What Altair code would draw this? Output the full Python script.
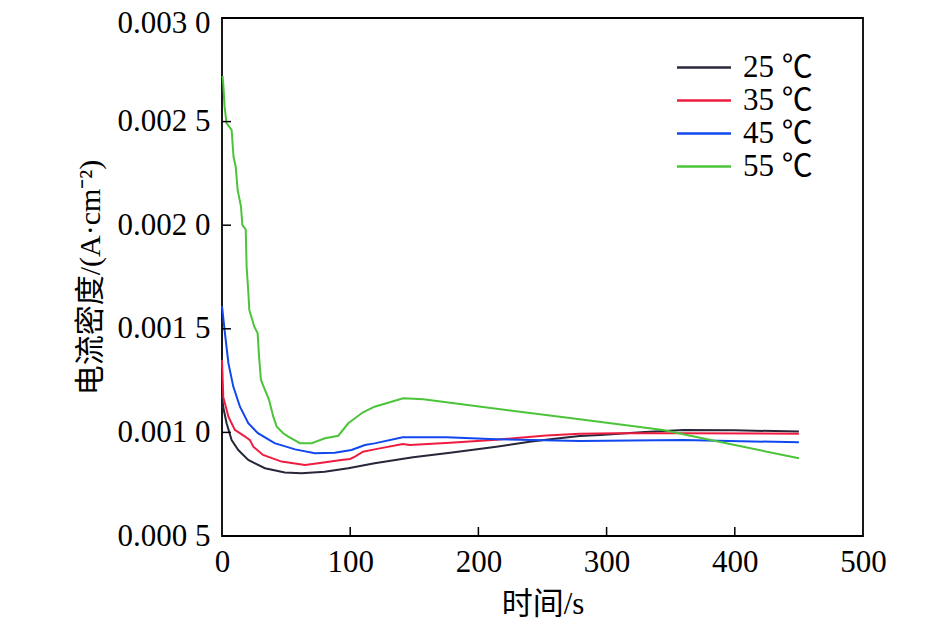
import altair as alt
import pandas as pd

# ---- data ----
series_names = ["25 ℃", "35 ℃", "45 ℃", "55 ℃"]
series_colors = ["#27273a", "#ee1c40", "#1047ee", "#4cc43a"]

x25 = [0, 1, 3.6, 7.5, 12.7, 20.5, 33.5, 49, 62, 80, 98.5, 119, 149, 178, 214, 240, 256, 279, 295, 330, 360, 400, 450]
y25 = [0.00118, 0.00112, 0.001044, 0.000963, 0.000915, 0.000867, 0.000827, 0.000806, 0.000803, 0.00081,
       0.000827, 0.000851, 0.00088, 0.000902, 0.000931, 0.000955, 0.000967, 0.000983, 0.000988, 0.001002,
       0.001012, 0.00101, 0.001004]

x35 = [0, 1, 5, 10, 18, 21.8, 24.4, 32, 46.5, 64.7, 75, 93, 100, 103.7, 110, 119, 141, 146.6, 178, 214, 253,
       279, 308, 360, 450]
y35 = [0.00135, 0.00117, 0.001076, 0.001012, 0.00098, 0.000963, 0.000931, 0.000891, 0.000859, 0.000843,
       0.000851, 0.000867, 0.000872, 0.000883, 0.000907, 0.000918, 0.000944, 0.000939, 0.00095, 0.000965,
       0.000985, 0.000994, 0.000996, 0.000996, 0.000994]

x45 = [0, 2.3, 5, 8.8, 14, 20.5, 28, 41, 57, 72.5, 88, 101, 111.5, 119, 141, 175, 214, 279, 360, 450]
y45 = [0.00161, 0.001478, 0.001334, 0.001221, 0.001124, 0.001044, 0.000996, 0.000948, 0.000918, 0.000899,
       0.000902, 0.000915, 0.000939, 0.000947, 0.000976, 0.000976, 0.000967, 0.000959, 0.000963, 0.000952]

x55 = [0.5, 1, 2, 3.6, 7.5, 9, 10.7, 12.2, 14.8, 15.9, 18.5, 19.2, 20.5, 21.3, 25.2, 27.8, 28.9, 30.4, 33.5,
       36.7, 40, 42.7, 47.8, 51.7, 60.8, 70, 80.3, 90.7, 98.5, 110, 119, 141.4, 157, 178, 279, 344, 400, 450]
y55 = [0.00272, 0.00268, 0.002572, 0.002492, 0.00246, 0.00233, 0.002282, 0.00217, 0.00209, 0.002, 0.00198,
       0.0018, 0.00168, 0.001591, 0.00151, 0.001478, 0.001365, 0.001253, 0.001205, 0.001157, 0.001076,
       0.001028, 0.000996, 0.00098, 0.000948, 0.000948, 0.000972, 0.000984, 0.001044, 0.001097, 0.001124,
       0.001165, 0.00116, 0.001143, 0.001063, 0.001012, 0.000939, 0.000875]

x_ticks = [0, 100, 200, 300, 400, 500]
y_ticks = [0.0005, 0.001, 0.0015, 0.002, 0.0025, 0.003]
x_inner_ticks = [100, 200, 300, 400]
y_inner_ticks = [0.001, 0.0015, 0.002, 0.0025]

rows = []
for name, xs, ys in zip(series_names, [x25, x35, x45, x55], [y25, y35, y45, y55]):
    for xv, yv in zip(xs, ys):
        rows.append({"t": xv, "j": yv, "s": name})
df = pd.DataFrame(rows)

W, H = 641, 518
FONT = "'Liberation Serif', 'Noto Sans CJK SC', serif"
FS = 31

xscale = alt.Scale(domain=[0, 500], nice=False)
yscale = alt.Scale(domain=[0.0005, 0.003], nice=False)

ylabel_expr = "slice(format(datum.value, '.4f'), 0, 5) + ' ' + slice(format(datum.value, '.4f'), 5)"

lines = alt.Chart(df).mark_line(strokeWidth=2).encode(
    x=alt.X("t:Q", scale=xscale,
            axis=alt.Axis(values=x_ticks, title="时间/s", tickSize=0, labelPadding=11,
                          titlePadding=12, grid=False, domain=False, labelFlush=False,
                          labelFont=FONT, titleFont=FONT, labelFontSize=FS, titleFontSize=FS,
                          labelColor="#000", titleColor="#000", titleFontWeight="normal")),
    y=alt.Y("j:Q", scale=yscale,
            axis=alt.Axis(values=y_ticks, title="电流密度/(A·cm⁻²)", tickSize=0, labelPadding=12,
                          titlePadding=12, grid=False, domain=False, labelExpr=ylabel_expr,
                          labelOffset={"condition": {"test": "datum.value > 0.0029", "value": 5},
                                       "value": 0},
                          labelFont=FONT, titleFont=FONT, labelFontSize=FS, titleFontSize=30,
                          labelColor="#000", titleColor="#000", titleFontWeight="normal")),
    color=alt.Color("s:N", scale=alt.Scale(domain=series_names, range=series_colors),
                    legend=alt.Legend(title=None, orient="none", legendX=480, legendY=34,
                                      symbolType="M-3,0H1", symbolSize=729, symbolStrokeWidth=2.5,
                                      labelFontSize=FS, labelFont=FONT, labelOffset=10,
                                      rowPadding=1, padding=0, labelColor="#000")),
    order=alt.Order("t:Q"),
)

xt = alt.Chart(pd.DataFrame({"v": x_inner_ticks})).mark_rule(color="#000", strokeWidth=1.5).encode(
    x=alt.X("v:Q", scale=xscale), y=alt.value(H), y2=alt.value(H - 9))
yt = alt.Chart(pd.DataFrame({"v": y_inner_ticks})).mark_rule(color="#000", strokeWidth=1.5).encode(
    y=alt.Y("v:Q", scale=yscale), x=alt.value(0), x2=alt.value(9))

chart = alt.layer(lines, xt, yt).properties(
    width=W, height=H,
    autosize=alt.AutoSizeParams(type="none"),
    padding={"left": 214, "top": 10, "right": 60, "bottom": 96},
    background="white",
).configure_view(stroke="#000", strokeWidth=1.8)

chart.save("out.html", embed_options={"renderer": "svg", "actions": False})
